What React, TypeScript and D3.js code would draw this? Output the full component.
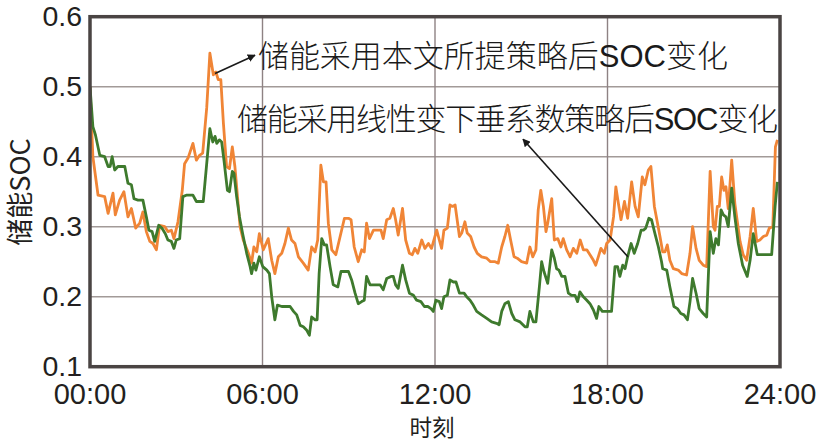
import React from "react";
import * as d3 from "d3";

// ---- data ----
const orangeHours = [0,0.10,0.28,0.51,0.63,0.80,0.88,1.03,1.18,1.32,1.44,1.59,1.73,1.84,1.96,2.08,2.19,2.31,2.42,2.60,2.71,2.83,2.92,3.06,3.21,3.29,3.41,3.58,3.70,3.81,3.92,4.06,4.17,4.29,4.38,4.46,4.55,4.64,4.75,4.85,4.95,5.04,5.13,5.22,5.33,5.51,5.62,5.70,5.80,5.89,6.03,6.20,6.32,6.43,6.55,6.67,6.78,6.90,7.01,7.13,7.25,7.42,7.59,7.71,7.83,7.92,8.03,8.12,8.21,8.29,8.41,8.55,8.70,8.85,8.99,9.08,9.19,9.33,9.45,9.54,9.62,9.72,9.86,10.01,10.12,10.20,10.32,10.43,10.55,10.63,10.72,10.87,10.98,11.11,11.21,11.30,11.40,11.54,11.65,11.77,11.88,12.06,12.15,12.23,12.31,12.43,12.52,12.61,12.70,12.85,12.93,13.04,13.12,13.24,13.36,13.47,13.62,13.80,13.93,14.09,14.20,14.32,14.43,14.53,14.63,14.75,14.86,15.01,15.19,15.30,15.40,15.51,15.59,15.68,15.77,15.86,15.92,16.06,16.15,16.27,16.38,16.46,16.58,16.70,16.81,16.93,17.05,17.16,17.28,17.39,17.51,17.59,17.68,17.77,17.89,17.97,18.09,18.21,18.29,18.38,18.47,18.59,18.70,18.84,18.96,19.07,19.21,19.30,19.42,19.51,19.63,19.74,19.83,19.92,20.00,20.08,20.17,20.29,20.46,20.58,20.75,20.87,20.96,21.08,21.19,21.33,21.45,21.57,21.68,21.74,21.82,21.89,21.97,22.05,22.12,22.20,22.32,22.43,22.61,22.72,22.84,22.96,23.07,23.19,23.30,23.42,23.54,23.63,23.75,23.84,23.91];
const orangeSOC = [0.50,0.40,0.345,0.343,0.319,0.348,0.317,0.338,0.350,0.314,0.326,0.298,0.305,0.321,0.293,0.279,0.276,0.267,0.302,0.300,0.293,0.295,0.283,0.307,0.352,0.390,0.398,0.419,0.395,0.402,0.405,0.47,0.548,0.517,0.521,0.51,0.51,0.448,0.386,0.383,0.414,0.386,0.343,0.30,0.281,0.262,0.248,0.271,0.264,0.29,0.267,0.283,0.252,0.233,0.257,0.262,0.276,0.298,0.281,0.276,0.257,0.248,0.238,0.271,0.264,0.281,0.388,0.364,0.364,0.305,0.267,0.260,0.286,0.312,0.312,0.31,0.271,0.25,0.267,0.264,0.305,0.283,0.295,0.295,0.295,0.283,0.31,0.312,0.326,0.31,0.288,0.326,0.281,0.262,0.26,0.269,0.262,0.281,0.269,0.276,0.269,0.295,0.281,0.269,0.295,0.298,0.331,0.329,0.331,0.286,0.291,0.307,0.291,0.286,0.271,0.262,0.257,0.255,0.25,0.25,0.248,0.271,0.286,0.302,0.281,0.257,0.255,0.25,0.248,0.271,0.257,0.267,0.324,0.352,0.329,0.293,0.305,0.340,0.281,0.283,0.271,0.283,0.267,0.257,0.269,0.262,0.281,0.267,0.267,0.26,0.252,0.245,0.257,0.269,0.262,0.276,0.281,0.314,0.357,0.333,0.31,0.336,0.312,0.364,0.329,0.314,0.371,0.36,0.381,0.386,0.329,0.305,0.285,0.264,0.264,0.274,0.252,0.24,0.238,0.233,0.231,0.262,0.3,0.269,0.252,0.245,0.243,0.379,0.3,0.295,0.329,0.329,0.371,0.352,0.357,0.326,0.395,0.333,0.279,0.26,0.252,0.286,0.326,0.279,0.281,0.286,0.288,0.298,0.3,0.414,0.424];

const greenHours = [0,0.10,0.19,0.34,0.51,0.63,0.70,0.77,0.86,0.97,1.21,1.32,1.44,1.53,1.67,1.84,1.96,2.05,2.16,2.25,2.39,2.50,2.62,2.71,2.83,2.92,3.00,3.12,3.23,3.35,3.58,3.70,3.94,4.17,4.27,4.35,4.41,4.50,4.58,4.66,4.78,4.85,4.95,5.01,5.10,5.20,5.31,5.45,5.57,5.62,5.70,5.77,5.89,6.01,6.15,6.24,6.32,6.43,6.52,6.67,6.96,7.08,7.19,7.31,7.42,7.54,7.63,7.71,7.83,7.90,7.97,8.06,8.15,8.23,8.35,8.46,8.62,8.73,8.99,9.10,9.22,9.33,9.45,9.54,9.62,9.74,10.09,10.20,10.32,10.47,10.55,10.63,10.72,10.87,10.98,11.11,11.25,11.36,11.51,11.63,11.75,11.86,11.94,12.03,12.15,12.23,12.31,12.43,12.52,12.64,12.73,12.85,13.01,13.10,13.22,13.33,13.45,13.62,13.80,13.97,14.14,14.23,14.32,14.43,14.55,14.67,14.78,14.96,15.13,15.21,15.30,15.42,15.51,15.63,15.71,15.79,15.92,16.06,16.15,16.23,16.31,16.41,16.52,16.64,16.75,16.87,16.96,17.04,17.16,17.28,17.39,17.51,17.62,17.70,17.82,18.14,18.26,18.35,18.43,18.53,18.61,18.70,18.82,18.93,19.05,19.17,19.25,19.33,19.44,19.53,19.65,19.77,19.88,19.92,20.06,20.17,20.31,20.43,20.55,20.66,20.78,20.87,20.96,21.08,21.19,21.33,21.45,21.57,21.68,21.77,21.86,21.95,22.03,22.12,22.20,22.32,22.43,22.55,22.70,22.86,22.96,23.07,23.21,23.36,23.71,23.83,23.91];
const greenSOC = [0.5,0.443,0.431,0.402,0.4,0.386,0.386,0.4,0.381,0.386,0.386,0.362,0.36,0.34,0.338,0.338,0.314,0.295,0.293,0.279,0.302,0.298,0.290,0.281,0.279,0.269,0.281,0.283,0.343,0.345,0.345,0.336,0.336,0.440,0.421,0.429,0.419,0.424,0.421,0.395,0.352,0.35,0.379,0.376,0.343,0.314,0.29,0.262,0.243,0.233,0.248,0.238,0.257,0.243,0.238,0.233,0.2,0.167,0.188,0.186,0.186,0.179,0.174,0.159,0.157,0.152,0.145,0.171,0.167,0.167,0.233,0.283,0.274,0.274,0.243,0.217,0.214,0.236,0.236,0.224,0.205,0.19,0.193,0.195,0.229,0.217,0.217,0.21,0.226,0.229,0.229,0.217,0.212,0.245,0.224,0.205,0.202,0.195,0.193,0.186,0.186,0.183,0.179,0.195,0.193,0.183,0.2,0.202,0.224,0.221,0.221,0.205,0.205,0.2,0.195,0.188,0.179,0.174,0.169,0.164,0.162,0.16,0.179,0.19,0.193,0.176,0.167,0.164,0.157,0.157,0.179,0.164,0.164,0.214,0.25,0.236,0.219,0.267,0.255,0.24,0.238,0.229,0.229,0.205,0.202,0.202,0.193,0.207,0.2,0.195,0.19,0.181,0.169,0.186,0.179,0.179,0.243,0.243,0.229,0.245,0.24,0.257,0.276,0.262,0.276,0.295,0.295,0.298,0.312,0.31,0.29,0.271,0.25,0.24,0.238,0.214,0.186,0.183,0.176,0.174,0.167,0.193,0.226,0.205,0.183,0.176,0.171,0.293,0.262,0.283,0.274,0.324,0.317,0.314,0.3,0.355,0.314,0.276,0.245,0.229,0.252,0.29,0.26,0.26,0.26,0.329,0.364];

const yTicks = [0.1, 0.2, 0.3, 0.4, 0.5, 0.6];
const yTickLabels = ["0.1", "0.2", "0.3", "0.4", "0.5", "0.6"];
const xTicks = [0, 6, 12, 18, 24];
const xTickLabels = ["00:00", "06:00", "12:00", "18:00", "24:00"];

const xTitle = "时刻";
const yTitle = "储能SOC";
const note1 = ["储能采用本文所提策略后", "SOC", "变化"];
const note2 = ["储能采用线性变下垂系数策略后", "SOC", "变化"];
// annotation anchors in data space [hour, soc]
const note1Pos = [5.84, 0.528];
const note2Pos = [5.11, 0.438];
const arrow1 = [[4.35, 0.519], [5.74, 0.545]];
const arrow2 = [[18.71, 0.257], [15.06, 0.425]];

const W = 827, H = 443;
const M = { left: 90, right: 780, top: 16.7, bottom: 366.7 };
const CJK = "'Noto Sans CJK SC', 'Noto Sans', sans-serif";
const LAT = "'Liberation Sans', Arial, sans-serif";

export default function App() {
  const x = d3.scaleLinear().domain([0, 24]).range([M.left, M.right]);
  const y = d3.scaleLinear().domain([0.1, 0.6]).range([M.bottom, M.top]);
  const line = d3.line<[number, number]>().x(d => x(d[0])).y(d => y(d[1]));
  const orange = orangeHours.map((h, i) => [h, orangeSOC[i]] as [number, number]);
  const green = greenHours.map((h, i) => [h, greenSOC[i]] as [number, number]);

  const arrow = (a: number[][], key: string) => {
    const x1 = x(a[0][0]), y1 = y(a[0][1]), x2 = x(a[1][0]), y2 = y(a[1][1]);
    return <line key={key} x1={x1} y1={y1} x2={x2} y2={y2} stroke="#1a1a1a" strokeWidth={1.6} markerEnd="url(#ah)" />;
  };

  return (
    <svg width={W} height={H} style={{ position: "absolute", left: 0, top: 0, background: "#fff" }}>
      <defs>
        <marker id="ah" viewBox="0 0 10 10" refX="9" refY="5" markerWidth="8" markerHeight="8" markerUnits="userSpaceOnUse" orient="auto">
          <path d="M0,0 L10,5 L0,10 z" fill="#1a1a1a" />
        </marker>
        <clipPath id="plot"><rect x={M.left} y={M.top} width={M.right - M.left} height={M.bottom - M.top} /></clipPath>
      </defs>
      {yTicks.slice(1, -1).map(t => (
        <line key={"gy" + t} x1={M.left} x2={M.right} y1={y(t)} y2={y(t)} stroke="#a29a98" strokeWidth={1.4} />
      ))}
      {xTicks.slice(1, -1).map(t => (
        <line key={"gx" + t} x1={x(t)} x2={x(t)} y1={M.top} y2={M.bottom} stroke="#8e8283" strokeWidth={1.4} />
      ))}
      <g clipPath="url(#plot)">
        <path d={line(orange) || ""} fill="none" stroke="#f08536" strokeWidth={2.8} strokeLinejoin="round" />
        <path d={line(green) || ""} fill="none" stroke="#3e7a2d" strokeWidth={2.8} strokeLinejoin="round" />
      </g>
      <rect x={M.left} y={M.top} width={M.right - M.left} height={M.bottom - M.top} fill="none" stroke="#4a4443" strokeWidth={3.5} />
      {yTicks.map((t, i) => (
        <text key={"yl" + t} x={M.left - 8} y={y(t)} dy="0.33em" textAnchor="end" fontFamily={LAT} fontSize={28.5} fill="#231f20">{yTickLabels[i]}</text>
      ))}
      {xTicks.map((t, i) => (
        <text key={"xl" + t} x={x(t)} y={404} textAnchor="middle" fontFamily={LAT} fontSize={29} fill="#231f20">{xTickLabels[i]}</text>
      ))}
      <text x={432} y={436.3} textAnchor="middle" fontFamily={CJK} fontSize={22.5} fill="#231f20">{xTitle}</text>
      <text transform="translate(30,192) rotate(-90)" textAnchor="middle" fontFamily={CJK} fontSize={27} fill="#231f20">{yTitle}</text>
      <text x={x(note1Pos[0])} y={y(note1Pos[1])} fontFamily={CJK} fontWeight={300} fontSize={31} fill="#1a1a1a" textLength={470} lengthAdjust="spacing">
        {note1[0]}<tspan fontFamily={LAT} fontWeight={400}>{note1[1]}</tspan>{note1[2]}
      </text>
      <text x={x(note2Pos[0])} y={y(note2Pos[1])} fontFamily={CJK} fontWeight={300} fontSize={31} fill="#1a1a1a" textLength={541} lengthAdjust="spacing">
        {note2[0]}<tspan fontFamily={LAT} fontWeight={400}>{note2[1]}</tspan>{note2[2]}
      </text>
      {arrow(arrow1, "a1")}
      {arrow(arrow2, "a2")}
    </svg>
  );
}
